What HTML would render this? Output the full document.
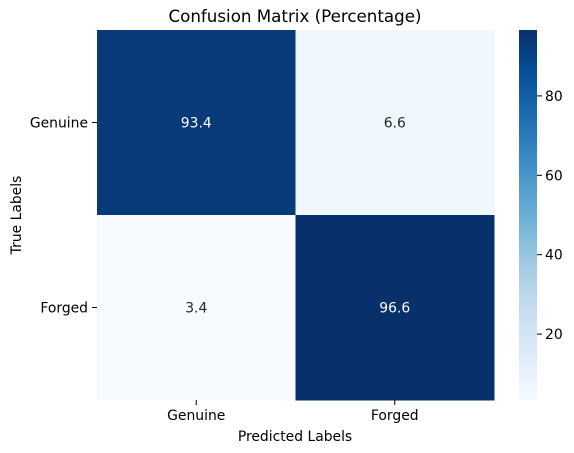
<!DOCTYPE html>
<html><head><meta charset="utf-8"><style>
html,body{margin:0;padding:0;background:#fff;}
svg{display:block;font-family:"DejaVu Sans","Liberation Sans",sans-serif;}
</style></head><body>
<svg id="chart" width="574" height="453" viewBox="0 0 574 453">
<defs>
<linearGradient id="blues" x1="0" y1="1" x2="0" y2="0">
<stop offset="0" stop-color="#f7fbff"/><stop offset="0.125" stop-color="#deebf7"/><stop offset="0.25" stop-color="#c6dbef"/><stop offset="0.375" stop-color="#9ecae1"/><stop offset="0.5" stop-color="#6baed6"/><stop offset="0.625" stop-color="#4292c6"/><stop offset="0.75" stop-color="#2171b5"/><stop offset="0.875" stop-color="#08519c"/><stop offset="1" stop-color="#08306b"/>
</linearGradient>
</defs>
<text x="295" y="22" font-size="16.7" text-anchor="middle" fill="#000">Confusion Matrix (Percentage)</text>
<g id="cells"></g>
<g id="axes"></g>
<rect x="519" y="30" width="18" height="370" fill="url(#blues)"/>
<g id="cbticks"></g>
<text x="295" y="441" font-size="13.9" text-anchor="middle">Predicted Labels</text>
<text transform="translate(21,215) rotate(-90)" font-size="13.9" text-anchor="middle">True Labels</text>
</svg>
<script>
const trueLabels = ["Genuine", "Forged"];
const predLabels = ["Genuine", "Forged"];
const values = [[93.4, 6.6], [3.4, 96.6]];
const cbTicks = [20, 40, 60, 80];

const NS = "http://www.w3.org/2000/svg";
const X0 = 97, X1 = 494, Y0 = 30, Y1 = 400;
const flat = values.flat();
const vmin = Math.min(...flat), vmax = Math.max(...flat);
const stops = ["#f7fbff","#deebf7","#c6dbef","#9ecae1","#6baed6","#4292c6","#2171b5","#08519c","#08306b"];
function hex(c){return [1,3,5].map(i=>parseInt(c.substr(i,2),16));}
function color(v){
  let t = (v - vmin) / (vmax - vmin); t = Math.max(0, Math.min(1, t));
  const p = t * 8, i = Math.min(7, Math.floor(p)), f = p - i;
  const a = hex(stops[i]), b = hex(stops[i+1]);
  return "rgb(" + a.map((x,k)=>Math.round(x + (b[k]-x)*f)).join(",") + ")";
}
const cw = (X1 - X0) / predLabels.length, ch = (Y1 - Y0) / trueLabels.length;
const xCol = j => X0 + j * cw, yRow = i => Y0 + i * ch;
const cbY = v => Y1 - (v - vmin) / (vmax - vmin) * (Y1 - Y0);
const cells = document.getElementById("cells");
const axes = document.getElementById("axes");
const cbg = document.getElementById("cbticks");
function el(tag, attrs, parent, text){
  const e = document.createElementNS(NS, tag);
  for (const k in attrs) e.setAttribute(k, attrs[k]);
  if (text !== undefined) e.textContent = text;
  parent.appendChild(e); return e;
}
values.forEach((row, i) => row.forEach((v, j) => {
  const r = el("rect", {x: xCol(j), y: yRow(i), width: cw + 0.5, height: ch + 0.5, fill: color(v)}, cells);
  
  
  const t = el("text", {x: xCol(j) + cw/2, y: yRow(i) + ch/2 + 5, "font-size": 13.9, "text-anchor": "middle",
    fill: (v - vmin)/(vmax - vmin) > 0.5 ? "#fff" : "#262626"}, cells, v.toFixed(1));
  
  
}));
trueLabels.forEach((lab, i) => {
  const y = yRow(i) + ch/2;
  el("line", {x1: X0 - 5, x2: X0, y1: y, y2: y, stroke: "#000", "stroke-width": 1}, axes);
  const t = el("text", {x: X0 - 9, y: y + 5, "font-size": 13.9, "text-anchor": "end"}, axes, lab);
  
  
});
predLabels.forEach((lab, j) => {
  const x = xCol(j) + cw/2;
  el("line", {x1: x, x2: x, y1: Y1, y2: Y1 + 5, stroke: "#000", "stroke-width": 1}, axes);
  const t = el("text", {x: x, y: Y1 + 20, "font-size": 13.9, "text-anchor": "middle"}, axes, lab);
  
  
});
cbTicks.forEach(v => {
  const y = cbY(v);
  el("line", {x1: 537, x2: 542, y1: y, y2: y, stroke: "#000", "stroke-width": 1}, cbg);
  const t = el("text", {x: 545, y: y + 5, "font-size": 13.9}, cbg, String(v));
  
  
});
</script>
</body></html>
